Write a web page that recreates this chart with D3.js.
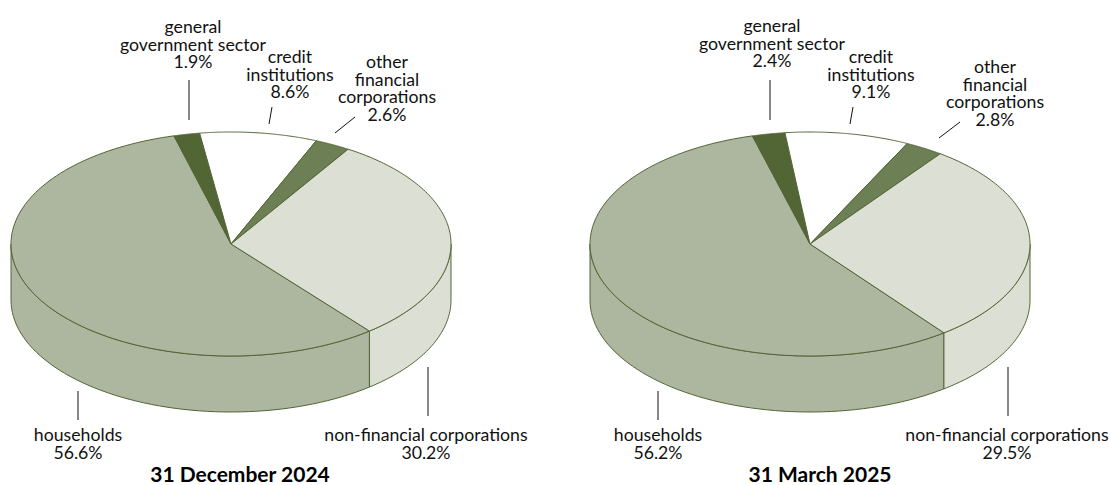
<!DOCTYPE html>
<html><head><meta charset="utf-8">
<script src="https://cdn.jsdelivr.net/npm/d3@7"></script>
<style>html,body{margin:0;padding:0;background:#fff}svg{display:block}
text{font-family:Lato,sans-serif;font-size:17.7px;fill:#111;text-anchor:middle}
.title{font-weight:700;font-size:21px;fill:#000}</style></head><body>
<svg id="c" width="1110" height="485"></svg>
<script>
const sectors = ["households","general government sector","credit institutions","other financial corporations","non-financial corporations"];
const dec2024 = [56.6,1.9,8.6,2.6,30.2];
const mar2025 = [56.2,2.4,9.1,2.8,29.5];
const titles = ["31 December 2024","31 March 2025"];
const labelLines = [["households"],["general","government sector"],["credit","institutions"],["other","financial","corporations"],["non-financial corporations"]];
const colors = ["#adb7a0","#526535","#ffffff","#6d8055","#dcdfd4"];
const stroke = "#526535";

// layout only
const panels = [
 {cx:231, start:141, values:dec2024, title:titles[0], titleX:240,
  labels:[[78,441],[193,33],[290,63],[387,68],[426,441]],
  leaders:[[78,391,78,420],[189,80,189,120],[272,107,269,124],[355,117,335,133],[428,367,428,416]]},
 {cx:810, start:142.5, values:mar2025, title:titles[1], titleX:820,
  labels:[[658,441],[772,32],[871,63],[995,73],[1007,441]],
  leaders:[[658,391,658,420],[770,80,770,120],[853,107,850,124],[960,122,939,138],[1008,367,1008,416]]}
];
const cy=244, rx=220, ry=112, depth=56, lineH=17.6;
const svg=d3.select("#c");

panels.forEach(p=>{
  const g=svg.append("g");
  const sx=d3.scaleLinear().domain([-1,1]).range([p.cx-rx,p.cx+rx]);
  const sy=d3.scaleLinear().domain([-1,1]).range([cy-ry,cy+ry]);
  const pie=d3.pie().sort(null).startAngle(p.start*Math.PI/180).endAngle((p.start+360)*Math.PI/180);
  const arcs=pie(p.values);
  const pt=(a,dy=0)=>[sx(Math.sin(a)),sy(-Math.cos(a))+dy];
  const line=d3.line();

  // side wall: visible where the rim faces the viewer (90deg..270deg, also one turn later)
  arcs.forEach((d,i)=>{
    [0,2*Math.PI].forEach(turn=>{
      const lo=Math.PI/2+turn, hi=3*Math.PI/2+turn;
      const a0=Math.max(d.startAngle,lo), a1=Math.min(d.endAngle,hi);
      if(a1<=a0) return;
      const ts=d3.range(0,61).map(k=>a0+(a1-a0)*k/60);
      const top=ts.map(a=>pt(a)), bot=ts.slice().reverse().map(a=>pt(a,depth));
      g.append("path").attr("d",line(top.concat(bot))+"Z")
       .attr("fill",colors[i]).attr("stroke",stroke).attr("stroke-width",1);
    });
  });
  // lid
  arcs.forEach((d,i)=>{
    const ts=d3.range(0,121).map(k=>d.startAngle+(d.endAngle-d.startAngle)*k/120);
    const pts=[[sx(0),sy(0)]].concat(ts.map(a=>pt(a)));
    g.append("path").attr("d",line(pts)+"Z")
     .attr("fill",colors[i]).attr("stroke",stroke).attr("stroke-width",1).attr("stroke-linejoin","round");
  });
  // leaders
  g.selectAll("line.l").data(p.leaders).join("line").attr("class","l")
   .attr("x1",d=>d[0]).attr("y1",d=>d[1]).attr("x2",d=>d[2]).attr("y2",d=>d[3])
   .attr("stroke","#111").attr("stroke-width",1);
  // labels
  sectors.forEach((s,i)=>{
    const t=g.append("text").attr("x",p.labels[i][0]).attr("y",p.labels[i][1]);
    const lines=labelLines[i].concat(p.values[i].toFixed(1)+"%");
    lines.forEach((l,k)=>t.append("tspan").attr("x",p.labels[i][0]).attr("dy",k?lineH:0).text(l));
  });
  g.append("text").attr("class","title").attr("x",p.titleX).attr("y",482).text(p.title);
});
</script></body></html>
